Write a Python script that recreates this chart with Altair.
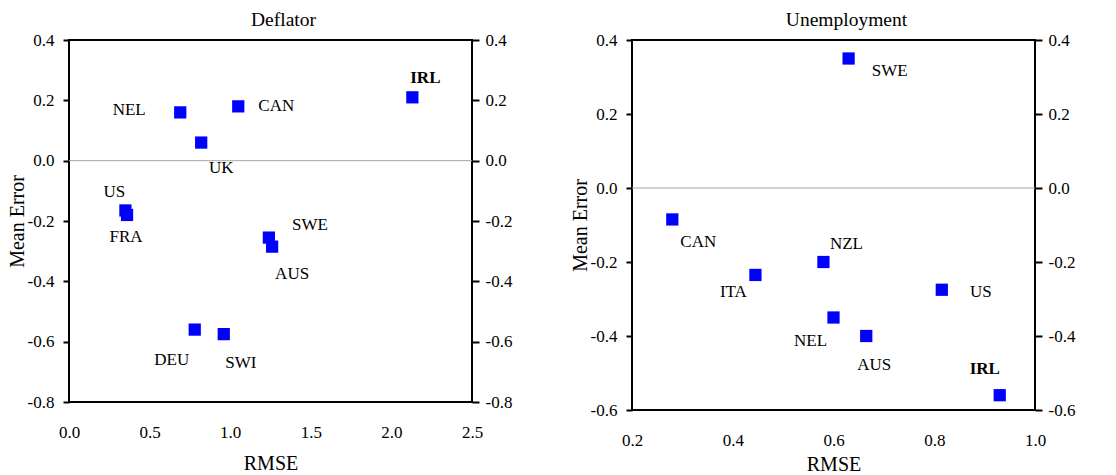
import altair as alt
import pandas as pd

# ---- Deflator panel data ----
def_country = ["IRL", "NEL", "CAN", "UK", "US", "FRA", "SWE", "AUS", "DEU", "SWI"]
def_rmse = [2.13, 0.69, 1.05, 0.82, 0.35, 0.36, 1.24, 1.26, 0.78, 0.96]
def_me = [0.21, 0.16, 0.18, 0.06, -0.165, -0.18, -0.255, -0.285, -0.56, -0.575]

# ---- Unemployment panel data ----
une_country = ["SWE", "CAN", "NZL", "ITA", "US", "NEL", "AUS", "IRL"]
une_rmse = [0.63, 0.28, 0.58, 0.445, 0.815, 0.60, 0.665, 0.93]
une_me = [0.35, -0.085, -0.20, -0.235, -0.275, -0.35, -0.40, -0.56]

# tick values
def_xticks = [0.0, 0.5, 1.0, 1.5, 2.0, 2.5]
def_yticks = [0.4, 0.2, 0.0, -0.2, -0.4, -0.6, -0.8]
une_xticks = [0.2, 0.4, 0.6, 0.8, 1.0]
une_yticks = [0.4, 0.2, 0.0, -0.2, -0.4, -0.6]

# label placement (pixel offsets of the label from its marker)
def_offsets = {"IRL": (13, -19), "NEL": (-51, -2), "CAN": (38, 0), "UK": (20, 25),
               "US": (-11, -18), "FRA": (-1, 22), "SWE": (41, -13), "AUS": (20, 27),
               "DEU": (-23, 30), "SWI": (17, 29)}
une_offsets = {"SWE": (41, 12), "CAN": (26, 23), "NZL": (23, -18), "ITA": (-22, 17),
               "US": (39, 2), "NEL": (-23, 23), "AUS": (8, 29), "IRL": (-15, -26)}

FONT = "Liberation Serif"
LABEL_EXPR = "replace(format(datum.value, '.1f'), '\u2212', '-')"


def panel(countries, rmse, me, offsets, xdom, ydom, xticks, yticks, title, w, h, bold,
          xtitle_pad):
    df = pd.DataFrame({"country": countries, "rmse": rmse, "me": me})
    xs = alt.Scale(domain=xdom, nice=False, zero=False)
    ys = alt.Scale(domain=ydom, nice=False, zero=False)
    xaxis = alt.Axis(title="RMSE", values=xticks, labelExpr=LABEL_EXPR, ticks=False,
                     domain=False, grid=False, labelPadding=22, titlePadding=xtitle_pad,
                     labelFlush=False)
    yleft = alt.Axis(title="Mean Error", values=yticks, labelExpr=LABEL_EXPR, orient="left",
                     tickSize=6, tickWidth=2, tickColor="black", domain=False, grid=False,
                     labelPadding=9, titlePadding=0)
    yright = alt.Axis(title=None, values=yticks, labelExpr=LABEL_EXPR, orient="right",
                      tickSize=7, tickWidth=2, tickColor="black", domain=False, grid=False,
                      labelPadding=6)

    base = alt.Chart(df)
    zero = alt.Chart(pd.DataFrame({"z": [0.0]})).mark_rule(color="#a6a6a6", strokeWidth=1).encode(
        y=alt.Y("z:Q", scale=ys, axis=yleft)
    )
    right = base.mark_point(opacity=0).encode(
        x=alt.X("rmse:Q", scale=xs, axis=xaxis),
        y=alt.Y("me:Q", scale=ys, axis=yright),
    )
    pts = base.mark_square(size=150, color="#0000FF", opacity=1).encode(
        x=alt.X("rmse:Q", scale=xs, axis=xaxis),
        y=alt.Y("me:Q", scale=ys, axis=None),
    )
    layers = [zero, right, pts]
    for c in countries:
        dx, dy = offsets[c]
        t = base.transform_filter(alt.datum.country == c).mark_text(
            dx=dx, dy=dy, fontSize=17, font=FONT, color="black",
            fontWeight="bold" if c == bold else "normal",
            align="center", baseline="middle",
        ).encode(
            x=alt.X("rmse:Q", scale=xs, axis=xaxis),
            y=alt.Y("me:Q", scale=ys, axis=None),
            text="country:N",
        )
        layers.append(t)
    return alt.layer(*layers).resolve_scale(y="independent").properties(
        width=w, height=h,
        title=alt.TitleParams(title, fontSize=19.5, font=FONT, fontWeight="normal",
                              color="black", dx=13, offset=1),
    )


left = panel(def_country, def_rmse, def_me, def_offsets, [0, 2.5], [-0.8, 0.4],
             def_xticks, def_yticks, "Deflator", 403, 362, "IRL", 13)
right = panel(une_country, une_rmse, une_me, une_offsets, [0.2, 1.0], [-0.6, 0.4],
              une_xticks, une_yticks, "Unemployment", 403, 370, "IRL", 6)

chart = alt.hconcat(left, right, spacing=56).properties(
    padding={"left": 6, "top": 8, "right": 5, "bottom": 0}
).configure(font=FONT, background="white").configure_view(
    stroke="black", strokeWidth=2
).configure_axis(
    labelFont=FONT, titleFont=FONT, labelFontSize=17, titleFontSize=20,
    labelColor="black", titleColor="black", titleFontWeight="normal",
)

chart.save("out.html", embed_options={"renderer": "svg", "actions": False})
